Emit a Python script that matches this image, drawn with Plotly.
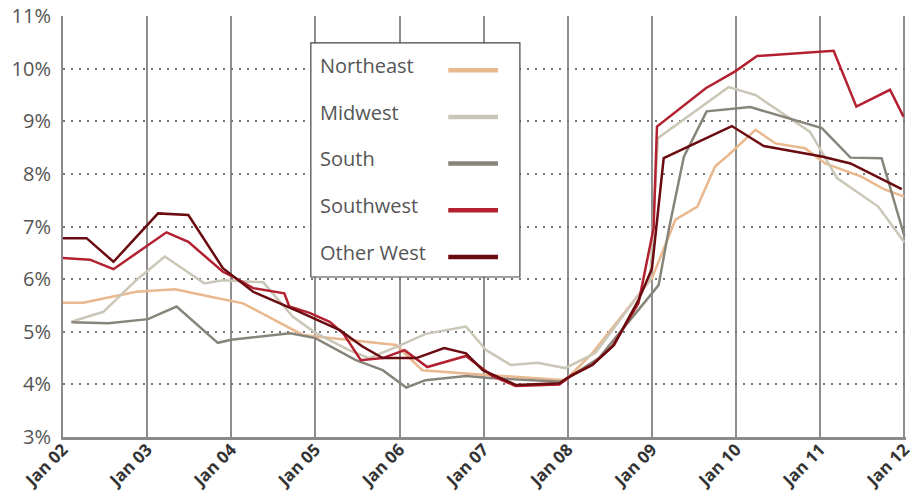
import plotly.graph_objects as go

# Delinquency rate by region, in percent; x positions are decimal years.
northeast_x = [2002.00, 2002.24, 2002.87, 2003.33, 2003.74, 2004.14, 2004.85, 2005.01,
               2005.96, 2006.27, 2007.03, 2007.97, 2008.29, 2009.00, 2009.28, 2009.54,
               2009.75, 2009.91, 2010.23, 2010.47, 2010.82, 2011.06, 2011.49, 2011.77, 2012.00]
northeast_y = [5.55, 5.55, 5.76, 5.81, 5.67, 5.54, 4.94, 4.91,
               4.75, 4.27, 4.18, 4.08, 4.59, 6.02, 7.13, 7.38,
               8.14, 8.36, 8.84, 8.58, 8.49, 8.20, 7.95, 7.70, 7.57]

midwest_x = [2002.10, 2002.48, 2002.87, 2003.21, 2003.68, 2003.90, 2004.38, 2004.73, 2005.00,
             2005.40, 2005.64, 2006.02, 2006.31, 2006.79, 2007.03, 2007.32, 2007.64, 2007.97,
             2008.33, 2008.98, 2009.07, 2009.91, 2010.23, 2010.88, 2011.20, 2011.69, 2012.00]
midwest_y = [5.19, 5.38, 5.98, 6.43, 5.92, 5.98, 5.94, 5.29, 4.98,
             4.65, 4.50, 4.75, 4.96, 5.10, 4.65, 4.37, 4.41, 4.31,
             4.60, 6.00, 8.68, 9.65, 9.50, 8.80, 7.92, 7.38, 6.70]

south_x = [2002.10, 2002.54, 2003.01, 2003.35, 2003.84, 2004.00, 2004.70, 2005.00, 2005.48,
           2005.80, 2006.08, 2006.31, 2006.79, 2007.07, 2007.93, 2008.37, 2009.00, 2009.08,
           2009.20, 2009.38, 2009.65, 2010.17, 2011.02, 2011.36, 2011.73, 2012.00]
south_y = [5.18, 5.16, 5.24, 5.48, 4.79, 4.85, 4.97, 4.88, 4.46,
           4.27, 3.94, 4.08, 4.16, 4.12, 4.05, 4.50, 5.73, 5.89,
           6.94, 8.33, 9.19, 9.27, 8.87, 8.31, 8.30, 6.82]

southwest_x = [2002.00, 2002.32, 2002.60, 2003.23, 2003.49, 2003.90, 2004.02, 2004.26, 2004.63,
               2004.69, 2004.93, 2005.17, 2005.33, 2005.54, 2005.80, 2006.06, 2006.33, 2006.79,
               2007.10, 2007.38, 2007.90, 2008.05, 2008.29, 2008.53, 2008.84, 2008.92, 2009.02,
               2009.06, 2009.64, 2009.99, 2010.25, 2011.16, 2011.43, 2011.83, 2011.99]
southwest_y = [6.40, 6.37, 6.19, 6.89, 6.71, 6.14, 6.05, 5.83, 5.73,
               5.48, 5.36, 5.19, 4.97, 4.46, 4.50, 4.65, 4.33, 4.54,
               4.16, 3.97, 4.00, 4.18, 4.37, 4.72, 5.54, 6.17, 6.97,
               8.90, 9.63, 9.95, 10.24, 10.34, 9.28, 9.60, 9.09]

other_west_x = [2002.00, 2002.28, 2002.60, 2003.13, 2003.49, 2003.90, 2004.26, 2004.81, 2005.29,
                2005.56, 2005.80, 2006.20, 2006.53, 2006.79, 2006.99, 2007.38, 2007.90, 2007.99,
                2008.29, 2008.55, 2008.84, 2009.00, 2009.14, 2009.95, 2010.33, 2011.02, 2011.36,
                2011.97]
other_west_y = [6.78, 6.78, 6.33, 7.25, 7.22, 6.21, 5.76, 5.38, 5.03,
                4.72, 4.50, 4.50, 4.69, 4.59, 4.27, 3.99, 4.02, 4.12,
                4.37, 4.75, 5.60, 6.20, 8.30, 8.91, 8.53, 8.33, 8.20,
                7.71]

series = [
    ("Northeast", northeast_x, northeast_y, "#E9B88E"),
    ("Midwest", midwest_x, midwest_y, "#CBC7B8"),
    ("South", south_x, south_y, "#87857A"),
    ("Southwest", southwest_x, southwest_y, "#B3202F"),
    ("Other West", other_west_x, other_west_y, "#6A0B10"),
]

year_ticks = list(range(2002, 2013))
year_labels = ["<b>Jan %02d</b>" % (y % 100) for y in year_ticks]
pct_ticks = list(range(3, 12))
pct_labels = ["%d%%" % p for p in pct_ticks]

fig = go.Figure()
for name, xs, ys, color in series:
    fig.add_trace(go.Scatter(x=xs, y=ys, mode="lines", name=name,
                             line=dict(color=color, width=2.5), showlegend=False))

# Boxed legend with the label on the left and the line swatch on the right
box_x0, box_x1 = 0.294, 0.542
box_y0, box_y1 = 0.380, 0.936
shapes = [dict(type="rect", xref="paper", yref="paper", x0=box_x0, x1=box_x1,
               y0=box_y0, y1=box_y1, line=dict(color="#444444", width=1.2),
               fillcolor="white", layer="above")]
annotations = []
row_top, row_step = 0.882, 0.1108
for i, (name, _, _, color) in enumerate(series):
    yc = row_top - i * row_step
    annotations.append(dict(xref="paper", yref="paper", x=0.303, y=yc, text=name,
                            showarrow=False, xanchor="left", yanchor="middle",
                            font=dict(family="Open Sans", size=20, color="#555555")))
    shapes.append(dict(type="line", xref="paper", yref="paper", x0=0.457, x1=0.516,
                       y0=yc - 0.011, y1=yc - 0.011, line=dict(color=color, width=4.5),
                       layer="above"))

fig.update_layout(
    width=911, height=502,
    margin=dict(l=63, r=5, t=16, b=65, autoexpand=False),
    paper_bgcolor="white", plot_bgcolor="white",
    font=dict(family="Open Sans", size=20, color="#555555"),
    shapes=shapes, annotations=annotations,
)
fig.update_xaxes(range=[2002, 2012.02], tickmode="array", tickvals=year_ticks,
                 ticktext=year_labels, tickangle=-45, showgrid=True,
                 gridcolor="#8E8E8E", gridwidth=1.5, showline=True,
                 linecolor="#8A8A8A", linewidth=3, ticks="", zeroline=False,
                 automargin=False, ticklabeloverflow="allow", ticklabelstandoff=-7,
                 tickfont=dict(family="Open Sans", size=17, color="#333333"))
fig.update_yaxes(range=[3, 11.002], tickmode="array", tickvals=pct_ticks,
                 ticktext=pct_labels, showgrid=True, gridcolor="#777777",
                 gridwidth=2, griddash="2px,6px", showline=True,
                 linecolor="#8A8A8A", linewidth=2, ticks="", zeroline=False,
                 automargin=False, ticklabelstandoff=6,
                 tickfont=dict(family="Open Sans", size=20, color="#555555"))

fig.write_html("out.html")
